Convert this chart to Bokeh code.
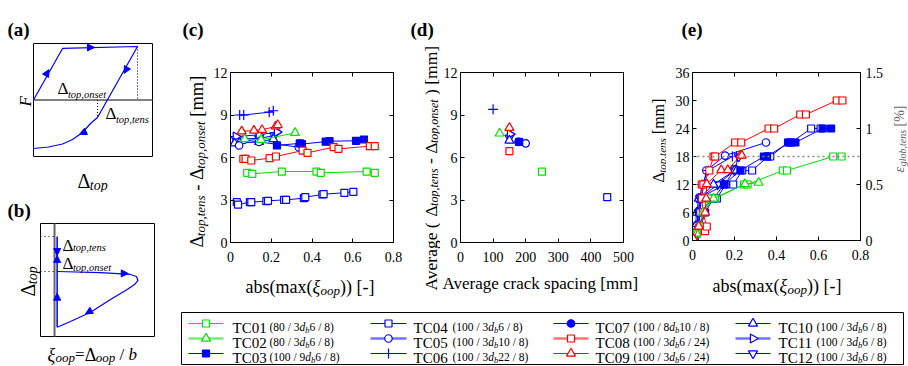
import math
from bokeh.plotting import figure
from bokeh.models import Range1d, LinearAxis, Label, Arrow, NormalHead, Span, FixedTicker
from bokeh.layouts import row, column
from bokeh.embed import file_html
from bokeh.resources import INLINE

FONT = "Liberation Serif"
GREEN = "#00e000"
BLUE = "#0000ff"
RED = "#ff0000"

# ---------------- data ----------------
names = ["TC01", "TC02", "TC03", "TC04", "TC05", "TC06", "TC07", "TC08", "TC09", "TC10", "TC11", "TC12"]
colors = [GREEN, GREEN, BLUE, BLUE, BLUE, BLUE, BLUE, RED, RED, BLUE, BLUE, BLUE]
markers = ["square", "triangle", "square", "square", "circle", "cross", "circle", "square",
           "triangle", "triangle", "triangle", "inverted_triangle"]
filled = [False, False, True, False, False, False, True, False, False, False, False, False]
leg_a = ["80", "80", "100", "100", "100", "100", "100", "100", "100", "100", "100", "100"]
leg_k = ["3", "3", "9", "3", "3", "3", "8", "3", "3", "3", "3", "3"]
leg_phi = ["6", "6", "6", "6", "10", "22", "10", "6", "6", "6", "6", "6"]
leg_s = ["8", "8", "8", "8", "8", "8", "8", "24", "24", "8", "8", "8"]

c_x = [
    [0.082, 0.107, 0.252, 0.422, 0.443, 0.668, 0.708],
    [0.07, 0.15, 0.317],
    [0.228, 0.34, 0.35, 0.467, 0.486, 0.616, 0.655],
    [0.031, 0.037, 0.095, 0.102, 0.176, 0.184, 0.263, 0.273, 0.36, 0.367, 0.451, 0.457, 0.559, 0.603],
    [0.042, 0.066, 0.14, 0.335],
    [0.045, 0.065, 0.19, 0.21],
    [],
    [0.063, 0.074, 0.102, 0.192, 0.223, 0.354, 0.378, 0.506, 0.53, 0.684, 0.708],
    [0.055, 0.115, 0.155, 0.222, 0.232],
    [0.02, 0.14, 0.21],
    [0.026, 0.139, 0.228],
    [0.025, 0.14, 0.215],
]
c_y = [
    [4.92, 4.85, 5.01, 5.01, 4.92, 5.01, 4.92],
    [7.3, 7.25, 7.74],
    [6.85, 7.0, 6.95, 7.12, 7.15, 7.18, 7.27],
    [2.85, 2.68, 2.85, 2.85, 2.92, 2.94, 3.01, 3.01, 3.13, 3.2, 3.39, 3.41, 3.51, 3.58],
    [6.85, 7.25, 7.1, 6.73],
    [9.0, 9.0, 9.2, 9.3],
    [],
    [5.91, 5.91, 5.79, 5.95, 6.07, 6.49, 6.33, 6.73, 6.61, 6.8, 6.8],
    [7.85, 7.9, 7.95, 8.2, 8.3],
    [7.0, 7.1, 7.3],
    [7.48, 7.6, 7.79],
    [7.3, 7.35, 7.55],
]
d_x = [250, 120, 180, 450, 200, 100, 178, 150, 150, 150, 152, 150]
d_y = [5.0, 7.7, 7.1, 3.2, 7.0, 9.4, 7.1, 6.45, 8.1, 7.2, 7.65, 7.4]
e_x = [
    [0.005, 0.02, 0.035, 0.05, 0.082, 0.107, 0.245, 0.262, 0.43, 0.45, 0.67, 0.71],
    [0.005, 0.02, 0.03, 0.05, 0.1, 0.25, 0.315],
    [0.005, 0.02, 0.04, 0.06, 0.1, 0.15, 0.228, 0.34, 0.355, 0.46, 0.49, 0.62, 0.66],
    [0.005, 0.015, 0.031, 0.037, 0.1, 0.116, 0.157, 0.194, 0.237, 0.284, 0.36, 0.37, 0.455, 0.47, 0.565, 0.61],
    [0.005, 0.02, 0.03, 0.042, 0.066, 0.155, 0.35],
    [0.005, 0.02, 0.035, 0.045, 0.075, 0.19, 0.21],
    [0.005],
    [0.005, 0.06, 0.068, 0.05, 0.045, 0.044, 0.052, 0.08, 0.1, 0.108, 0.203, 0.232, 0.362, 0.389, 0.513, 0.54, 0.687, 0.714],
    [0.005, 0.03, 0.06, 0.065, 0.068, 0.137, 0.168, 0.228, 0.235],
    [0.005, 0.013, 0.02, 0.03, 0.1, 0.2, 0.21],
    [0.005, 0.02, 0.04, 0.033, 0.155, 0.2, 0.215],
    [0.005, 0.015, 0.03, 0.035, 0.12, 0.2, 0.22],
]
e_y = [
    [0.3, 1.5, 3, 6, 9, 9, 12, 12, 15, 15, 18, 18],
    [0.3, 1.5, 3, 6, 9, 12.1, 12.4],
    [0.3, 1.5, 3, 6, 9, 12, 15, 18, 18, 21, 21, 24, 24],
    [0.3, 1.5, 6, 6, 9, 9, 12, 12, 15, 15, 18, 18, 21, 21, 24, 24],
    [0.3, 1.5, 3, 9, 15, 18.2, 21],
    [0.3, 3, 9, 12, 15, 18, 18],
    [0.3],
    [0.3, 2, 3, 6, 9, 12, 12, 15, 18, 18, 21, 21, 24, 24, 27, 27, 30, 30],
    [0.3, 3, 6, 9, 12.1, 15.1, 15.1, 18.2, 18.2],
    [0.3, 3, 6, 9, 12, 15, 15],
    [0.3, 3, 6, 9, 12.1, 15.2, 15.2],
    [0.3, 3, 6, 9, 12, 15, 18],
]
c_xticks = [0, 0.2, 0.4, 0.6, 0.8]
c_xlabels = ["0", "0.2", "0.4", "0.6", "0.8"]
diff_yticks = [0, 3, 6, 9, 12]
d_xticks = [0, 100, 200, 300, 400, 500]
e_yticks = [0, 6, 12, 18, 24, 30, 36]
e_rticks = [0, 0.5, 1, 1.5]
e_rlabels = ["0", "0.5", "1", "1.5"]
strain_limit = 18

sa_x = [0, 0.244, 0.874, 0.538, 0.479, 0.412, 0.328, 0.244, 0.126, 0.0]
sa_y = [0, 0.912, 0.947, -0.31, -0.416, -0.575, -0.70, -0.779, -0.832, -0.858]
sb_x = [0.146, 0.526, 0.789, 0.842, 0.855, 0.825, 0.76, 0.614, 0.439, 0.263, 0.146]
sb_y = [0.575, 0.566, 0.549, 0.531, 0.496, 0.46, 0.416, 0.327, 0.215, 0.133, 0.082]

EM = {' ': .25, '(': .333, ')': .333, '[': .333, ']': .333, '-': .333, ',': .25, '.': .25,
      '/': .278, '=': .564, '%': .833, 'Δ': .612, 'ξ': .45, 'ε': .44,
      'a': .444, 'b': .5, 'c': .444, 'd': .5, 'e': .444, 'g': .5, 'i': .278, 'k': .5,
      'l': .278, 'm': .778, 'n': .5, 'o': .5, 'p': .5, 'r': .333, 's': .389, 't': .278,
      'v': .5, 'x': .5, 'A': .722, 'C': .667, 'T': .611, 'F': .611}


def tw(s, size):
    return sum(EM.get(ch, 0.5) for ch in s) * size


def rich(p, X, Y, segs, rotate=False, color="black"):
    adv = 0.0
    for text, size, style, shift in segs:
        lead = len(text) - len(text.lstrip())
        off = tw(" " * lead, size)
        if rotate:
            px, py = X + shift, Y - adv - off
        else:
            px, py = X + adv + off, Y + shift
        p.add_layout(Label(x=px, y=py, text=text.strip(), angle=(math.pi / 2 if rotate else 0),
                           text_font=FONT, text_font_size=f"{size}px", text_font_style=style,
                           text_color=color, text_baseline="alphabetic", text_align="left"))
        adv += tw(text, size)


def no_align(p):
    try:
        p.frame_align = False
    except Exception:
        pass


def canvas(X0, Y0, W, H):
    p = figure(width=W, height=H, x_range=Range1d(X0, X0 + W), y_range=Range1d(Y0 + H, Y0),
               output_backend="svg", toolbar_location=None, x_axis_type=None, y_axis_type=None,
               min_border_left=0, min_border_right=0, min_border_top=0, min_border_bottom=0,
               background_fill_color="white", border_fill_color="white")
    p.outline_line_color = None
    p.grid.visible = False
    no_align(p)
    return p


def style_axis(ax, ticks, overrides=None, labels=True, standoff=3):
    ax.ticker = FixedTicker(ticks=ticks)
    ax.major_tick_in = 4
    ax.major_tick_out = 0
    ax.minor_tick_line_color = None
    ax.axis_line_color = "black"
    ax.major_tick_line_color = "black"
    ax.major_label_text_font = FONT
    ax.major_label_text_font_size = "14px"
    ax.major_label_text_color = "black"
    ax.major_label_standoff = standoff
    if not labels:
        ax.major_label_standoff = 0
        overrides = {t: "" for t in ticks}
    if overrides:
        ax.major_label_overrides = overrides


def data_panel(w, h, L, R, T, B, xr, yr, xticks, yticks, xover=None, box_right=True):
    p = figure(width=w, height=h, x_range=Range1d(*xr), y_range=Range1d(*yr),
               output_backend="svg", toolbar_location=None,
               min_border_left=L, min_border_right=R, min_border_top=T, min_border_bottom=B,
               background_fill_color="white", border_fill_color="white")
    p.outline_line_color = "black"
    p.grid.visible = False
    no_align(p)
    style_axis(p.xaxis[0], xticks, xover, standoff=9)
    style_axis(p.yaxis[0], yticks, standoff=3)
    top = LinearAxis()
    style_axis(top, xticks, labels=False)
    p.add_layout(top, "above")
    if box_right:
        right = LinearAxis()
        style_axis(right, yticks, labels=False)
        p.add_layout(right, "right")
    return p


MSIZE = {"square": 7, "circle": 7.5, "cross": 10, "triangle": 9, "inverted_triangle": 9}


def marker_kw(i):
    return dict(marker=markers[i], size=MSIZE[markers[i]],
                angle=(-math.pi / 2 if names[i] == "TC11" else 0),
                line_color=colors[i], line_width=1.2,
                fill_color=(colors[i] if filled[i] else "white"))


def draw_series(p, xs, ys, i):
    if not xs:
        return
    p.line(xs, ys, line_color=colors[i], line_width=1)
    p.scatter(xs, ys, **marker_kw(i))


order = [6, 11, 10, 9, 4, 5, 3, 2, 0, 7, 1, 8]

# ---------------- (a) ----------------
A_L, A_R, A_T, A_B = 33, 152, 43, 156
fa = canvas(0, 0, 180, 192)


def pa(u, v):
    return A_L + u * (A_R - A_L), (A_T + A_B) / 2 - v * (A_B - A_T) / 2


fa.quad(left=[A_L], right=[A_R], top=[A_T], bottom=[A_B], fill_color=None, line_color="black")
fa.line([A_L, A_R], [pa(0, 0)[1]] * 2, line_color="#555555", line_width=1.5)
fa.line([pa(sa_x[2], 0)[0]] * 2, [pa(0, sa_y[2])[1], pa(0, 0)[1]], line_color="black", line_dash="1 2")
fa.line([pa(sa_x[3], 0)[0]] * 2, [pa(0, 0)[1], pa(0, sa_y[3])[1]], line_color="black", line_dash="1 2")
fa.line([pa(u, v)[0] for u, v in zip(sa_x, sa_y)], [pa(u, v)[1] for u, v in zip(sa_x, sa_y)],
        line_color=BLUE, line_width=1.2)
for (u, v, du, dv) in [(0.126, 0.522, 0.244, 0.91), (0.504, 0.93, 1, 0),
                       (0.765, 0.487, -0.336, -1.257), (0.395, -0.6, -0.3, -0.3)]:
    x0, y0 = pa(u, v)
    x1, y1 = pa(u + du, v + dv)
    n = math.hypot(x1 - x0, y1 - y0)
    dx, dy = (x1 - x0) / n, (y1 - y0) / n
    fa.add_layout(Arrow(end=NormalHead(size=7, fill_color=BLUE, line_color=BLUE),
                        x_start=x0 - 6 * dx, y_start=y0 - 6 * dy, x_end=x0 + 1 * dx, y_end=y0 + 1 * dy,
                        line_alpha=0))
rich(fa, 7, 29, [("(a)", 19, "bold", 0)])
rich(fa, 57, 88, [("Δ", 17, "normal", 0), ("top,onset", 10.5, "italic", 6)])
rich(fa, 105, 113, [("Δ", 17, "normal", 0), ("top,tens", 10.5, "italic", 6)])
rich(fa, 25, 106, [("F", 17, "italic", 0)], rotate=True)
rich(fa, 77, 180, [("Δ", 20, "normal", 0), ("top", 14, "italic", 5)])

# ---------------- (b) ----------------
B_L, B_R, B_T, B_B = 40, 154, 223, 336
fb = canvas(0, 192, 180, 174)


def pb(u, v):
    return B_L + u * (B_R - B_L), B_B - v * (B_B - B_T)


fb.quad(left=[B_L], right=[B_R], top=[B_T], bottom=[B_B], fill_color=None, line_color="black")
fb.line([pb(0.123, 0)[0]] * 2, [B_T, B_B], line_color="#666666", line_width=2)
fb.line([B_L, pb(0.123, 0)[0]], [pb(0, 0.885)[1]] * 2, line_color="black", line_dash="1 3")
fb.line([B_L, pb(0.123, 0)[0]], [pb(0, 0.575)[1]] * 2, line_color="black", line_dash="1 3")
fb.line([pb(0.146, 0)[0]] * 2, [pb(0, 0.082)[1], pb(0, 0.885)[1]], line_color=BLUE, line_width=1.5)
fb.line([pb(u, v)[0] for u, v in zip(sb_x, sb_y)], [pb(u, v)[1] for u, v in zip(sb_x, sb_y)],
        line_color=BLUE, line_width=1.2)
for (u, v, du, dv) in [(0.146, 0.717, 0, -1), (0.146, 0.717, 0, 1), (0.146, 0.383, 0, 1),
                       (0.77, 0.557, 1, -0.02), (0.395, 0.2, -0.31, -0.18)]:
    x0, y0 = pb(u, v)
    x1, y1 = pb(u + du, v + dv)
    n = math.hypot(x1 - x0, y1 - y0)
    dx, dy = (x1 - x0) / n, (y1 - y0) / n
    fb.add_layout(Arrow(end=NormalHead(size=7, fill_color=BLUE, line_color=BLUE),
                        x_start=x0 - 6 * dx, y_start=y0 - 6 * dy, x_end=x0, y_end=y0, line_alpha=0))
rich(fb, 7, 210, [("(b)", 19, "bold", 0)])
rich(fb, 62, 245, [("Δ", 17, "normal", 0), ("top,tens", 10.5, "italic", 2)])
rich(fb, 62, 263, [("Δ", 17, "normal", 0), ("top,onset", 10.5, "italic", 4)])
rich(fb, 27, 296, [("Δ", 20, "normal", 0), ("top", 14, "italic", 5)], rotate=True)
rich(fb, 47, 354, [("ξ", 18, "italic", 0), ("oop", 13, "italic", 3), ("=", 17, "normal", 0),
                   ("Δ", 18, "normal", 0), ("oop", 13, "italic", 3), (" / ", 17, "normal", 0),
                   ("b", 17, "italic", 0)])

# ---------------- (c) ----------------
c_left = canvas(180, 0, 30, 300)
c_top = canvas(210, 0, 200, 50)
c_bot = canvas(210, 270, 200, 30)
fc = data_panel(200, 220, 18, 17, 22, 28, (0, 0.8), (0, 12), c_xticks, diff_yticks,
                dict(zip(c_xticks, c_xlabels)))
for i in order:
    draw_series(fc, c_x[i], c_y[i], i)
rich(c_left, 182, 29, [("(c)", 19, "bold", 0)])
rich(c_bot, 245, 286, [("abs(max(", 18, "normal", 0), ("ξ", 18, "italic", 0), ("oop", 13, "italic", 4),
                       (")) [-]", 18, "normal", 0)])
rich(c_left, 196, 247, [("Δ", 18.5, "normal", 0), ("top,tens", 13, "italic", 3.5), (" - ", 18.5, "normal", 0),
                        ("Δ", 18.5, "normal", 0), ("top,onset", 13, "italic", 3.5),
                        (" [mm]", 18.5, "normal", 0)], rotate=True)
panel_c = row(c_left, column(c_top, fc, c_bot))

# ---------------- (d) ----------------
d_left = canvas(410, 0, 30, 300)
d_top = canvas(440, 0, 200, 50)
d_bot = canvas(440, 270, 200, 30)
fd = data_panel(200, 220, 18, 17, 22, 28, (0, 500), (0, 12), d_xticks, diff_yticks)
for i in order:
    fd.scatter([d_x[i]], [d_y[i]], **marker_kw(i))
rich(d_left, 410, 29, [("(d)", 19, "bold", 0)])
rich(d_bot, 442, 283, [("Average crack spacing [mm]", 17, "normal", 0)])
rich(d_left, 430, 290, [("Average ( ", 17.5, "normal", 0), ("Δ", 17.5, "normal", 0),
                        ("top,tens", 12, "italic", 3.5), (" - ", 17.5, "normal", 0), ("Δ", 17.5, "normal", 0),
                        ("top,onset", 12, "italic", 3.5), (" ) [mm]", 17.5, "normal", 0)], rotate=True)
panel_d = row(d_left, column(d_top, fd, d_bot))

# ---------------- (e) ----------------
e_left = canvas(640, 0, 26, 300)
e_top = canvas(666, 0, 223, 50)
e_bot = canvas(666, 270, 223, 30)
e_right = canvas(889, 0, 19, 300)
fe = data_panel(223, 220, 26, 29, 22, 30, (0, 0.8), (0, 36), c_xticks, e_yticks,
                dict(zip(c_xticks, c_xlabels)), box_right=False)
fe.extra_y_ranges = {"eps": Range1d(0, 1.5)}
rax = LinearAxis(y_range_name="eps")
style_axis(rax, e_rticks, dict(zip(e_rticks, e_rlabels)), standoff=5)
fe.add_layout(rax, "right")
fe.add_layout(Span(location=strain_limit, dimension="width", line_color="#888888",
                   line_dash="2 3", line_width=1.5))
for i in order:
    draw_series(fe, e_x[i], e_y[i], i)
rich(e_top, 681, 29, [("(e)", 19, "bold", 0)])
rich(e_bot, 712, 285, [("abs(max(", 18, "normal", 0), ("ξ", 18, "italic", 0), ("oop", 13, "italic", 4),
                       (")) [-]", 18, "normal", 0)])
rich(e_left, 658, 182, [("Δ", 16, "normal", 0), ("top,tens", 11, "italic", 3), (" [mm]", 16, "normal", 0)],
     rotate=True)
rich(e_right, 899, 172, [("ε", 14, "italic", 0), ("glob,tens", 10, "italic", 3), (" [%]", 14, "normal", 0)],
     rotate=True, color="#666666")
panel_e = row(e_left, column(e_top, fe, e_bot), e_right)

# ---------------- legend ----------------
fl = canvas(180, 300, 728, 66)
fl.quad(left=[181], right=[903], top=[312], bottom=[364], fill_color=None, line_color="black")
col_l0 = [188, 370, 553, 735]
col_l1 = [223, 406, 588, 770]
col_tc = [232, 413, 595, 778]
col_par = [269, 452, 633, 816]
row_y = [323, 338, 353]
for i in range(12):
    c, r = i // 3, i % 3
    y = row_y[r]
    light = names[i] in ("TC02", "TC05", "TC08", "TC11")
    fl.line([col_l0[c], col_l1[c]], [y, y], line_color=colors[i],
            line_width=(2.5 if light else 1), line_alpha=(0.55 if light else 1))
    fl.scatter([(col_l0[c] + col_l1[c]) / 2], [y], **marker_kw(i))
    rich(fl, col_tc[c], y + 4, [(names[i], 15, "normal", 0)])
    rich(fl, col_par[c], y + 3, [(f"({leg_a[i]} / {leg_k[i]}", 11.5, "normal", 0), ("d", 11.5, "italic", 0),
                                 ("b", 8.5, "italic", 3), (f"{leg_phi[i]} / {leg_s[i]})", 11.5, "normal", 0)])

layout = row(column(fa, fb), column(row(panel_c, panel_d, panel_e), fl))
open("out.html", "w").write(file_html(layout, INLINE))
